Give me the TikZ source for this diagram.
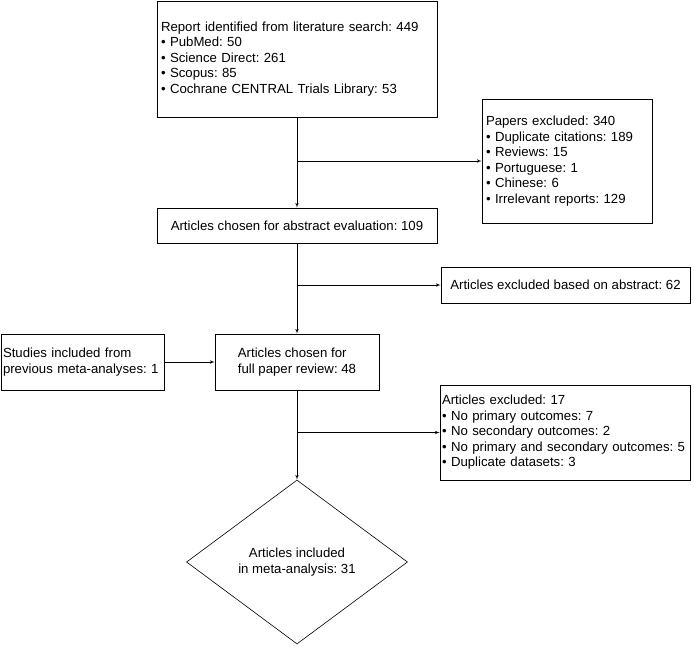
\documentclass[tikz,border=0pt]{standalone}
\usepackage{fontspec}
\setmainfont{Liberation Sans}
\frenchspacing
\usepackage{tikz}
\usetikzlibrary{shapes,shapes.geometric,arrows}
\tikzstyle{block} = [rectangle, draw, line width=0.6pt, inner xsep=4pt, align=left, font=\fontsize{13.2}{15.5}\selectfont]
\tikzstyle{line} = [draw, line width=0.6pt, -latex']
\tikzstyle{decision} = [diamond, draw, line width=0.6pt, aspect=1.35, inner sep=0pt, align=center, font=\fontsize{13.2}{15.5}\selectfont]

\begin{document}
\begin{tikzpicture}[x=1pt, y=-1pt]
    \useasboundingbox (0,0) rectangle (694,646);
    \node [block, minimum width=280pt, minimum height=116pt, text width=272pt] (search) at (297,59)
        {Report identified from literature search: 449\\
         \textbullet\ PubMed: 50\\
         \textbullet\ Science Direct: 261\\
         \textbullet\ Scopus: 85\\
         \textbullet\ Cochrane CENTRAL Trials Library: 53};
    \node [block, minimum width=170pt, minimum height=124pt, text width=162pt] (excl_dup) at (567,161)
        {Papers excluded: 340\\
         \textbullet\ Duplicate citations: 189\\
         \textbullet\ Reviews: 15\\
         \textbullet\ Portuguese: 1\\
         \textbullet\ Chinese: 6\\
         \textbullet\ Irrelevant reports: 129};
    \node [block, minimum width=280pt, minimum height=35pt, align=center] (abstract) at (297,225.5)
        {Articles chosen for abstract evaluation: 109};
    \node [block, minimum width=249pt, minimum height=36pt, align=center] (excl_abs) at (565.5,285)
        {Articles excluded based on abstract: 62};
    \node [block, minimum width=164pt, minimum height=56pt] (fullpaper) at (297,362)
        {Articles chosen for\\full paper review: 48};
    \node [block, minimum width=163pt, minimum height=56pt, inner xsep=2pt, text width=159pt] (previous) at (82.5,362)
        {Studies included from\\previous meta-analyses: 1};
    \node [block, minimum width=250pt, minimum height=95pt, inner xsep=2pt, text width=246pt] (excl_out) at (565,432.5)
        {Articles excluded: 17\\
         \textbullet\ No primary outcomes: 7\\
         \textbullet\ No secondary outcomes: 2\\
         \textbullet\ No primary and secondary outcomes: 5\\
         \textbullet\ Duplicate datasets: 3};
    \node [decision, minimum width=221pt, minimum height=164pt] (meta) at (297,562)
        {Articles included\\in meta-analysis: 31};

    \path [line] (search) -- (abstract);
    \path [line] (search.south |- excl_dup.west) -- (excl_dup.west);
    \path [line] (abstract) -- (fullpaper);
    \path [line] (abstract.south |- excl_abs.west) -- (excl_abs.west);
    \path [line] (previous) -- (fullpaper);
    \path [line] (fullpaper) -- (meta);
    \path [line] (fullpaper.south |- excl_out.west) -- (excl_out.west);
  \end{tikzpicture}
\end{document}
